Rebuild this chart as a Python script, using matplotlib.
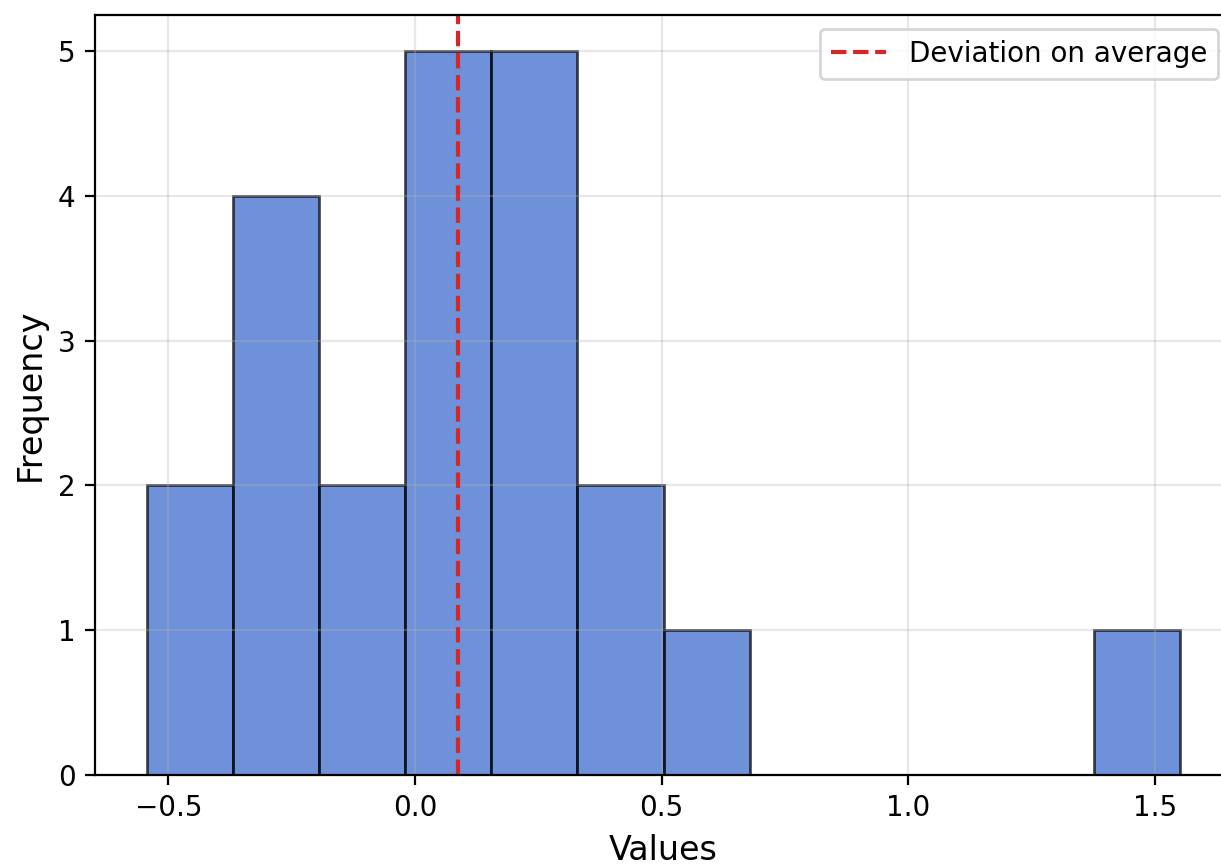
import matplotlib
matplotlib.use("Agg")
import matplotlib.pyplot as plt
import numpy as np

# Histogram data
bin_start = -0.544
bin_end = 1.552
n_bins = 12
counts = [2, 4, 2, 5, 5, 2, 1, 0, 0, 0, 0, 1]
mean_value = 0.087
legend_label = "Deviation on average"
x_label = "Values"
y_label = "Frequency"

edges = np.linspace(bin_start, bin_end, n_bins + 1)
centers = (edges[:-1] + edges[1:]) / 2

dpi = 200
fig = plt.figure(figsize=(1221 / dpi, 864 / dpi), dpi=dpi)
ax = fig.add_axes([95 / 1221, 89 / 864, (1232 - 95) / 1221, (775 - 15) / 864])

ax.hist(centers, bins=edges, weights=counts, color="#3263CA", alpha=0.7,
        edgecolor="black", linewidth=1.0)
ax.axvline(mean_value, color="#d62728", linestyle="--", linewidth=1.5,
           label=legend_label)

ax.set_xlabel(x_label, fontsize=12)
ax.set_ylabel(y_label, fontsize=12)
ax.tick_params(labelsize=10)
ax.grid(True, alpha=0.3)
ax.legend(loc="upper right", fontsize=10)

fig.savefig("out.png", dpi=dpi)
